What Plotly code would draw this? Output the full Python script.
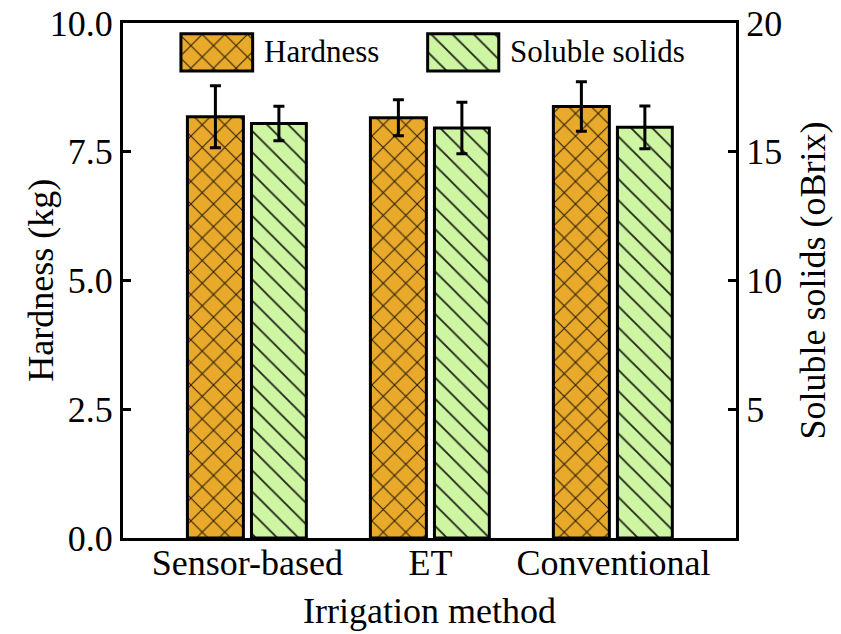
import plotly.graph_objects as go

categories = ["Sensor-based", "ET", "Conventional"]
hardness = [8.18, 8.16, 8.38]
hardness_err = [0.60, 0.35, 0.48]
soluble = [16.1, 15.92, 15.95]
soluble_err = [0.67, 1.0, 0.83]
legend_labels = ["Hardness", "Soluble solids"]
x_title = "Irrigation method"
y_title = "Hardness (kg)"
y2_title = "Soluble solids (oBrix)"

FONT = "Liberation Serif"
ORANGE = "#E9A92A"
GREEN = "#CEF5A2"
TICK = 36
TITLE = 36

fig = go.Figure()
fig.add_trace(go.Bar(
    x=categories, y=hardness, name=legend_labels[0], yaxis="y",
    offset=-0.328, width=0.306,
    marker=dict(color=ORANGE, line=dict(color="black", width=3),
                pattern=dict(shape="x", size=16, solidity=0.12, fgcolor="black", bgcolor=ORANGE, fgopacity=0.85)),
    error_y=dict(type="data", array=hardness_err, color="black", thickness=3, width=5.5),
    showlegend=False,
))
fig.add_trace(go.Bar(
    x=categories, y=soluble, name=legend_labels[1], yaxis="y2",
    offset=0.022, width=0.30,
    marker=dict(color=GREEN, line=dict(color="black", width=3),
                pattern=dict(shape="\\", size=15, solidity=0.12, fgcolor="black", bgcolor=GREEN, fgopacity=0.85)),
    error_y=dict(type="data", array=soluble_err, color="black", thickness=3, width=5.5),
    showlegend=False,
))

# legend swatches drawn on a hidden overlay axis (fraction of plot area)
sw_x = [0.153, 0.555]
sw_base = 0.907
sw_h = 0.072
fig.add_trace(go.Bar(
    x=[sw_x[0]], y=[sw_h], base=[sw_base], width=0.117, xaxis="x2", yaxis="y3",
    marker=dict(color=ORANGE, line=dict(color="black", width=3),
                pattern=dict(shape="x", size=16, solidity=0.12, fgcolor="black", bgcolor=ORANGE, fgopacity=0.85)),
    showlegend=False, hoverinfo="skip",
))
fig.add_trace(go.Bar(
    x=[sw_x[1]], y=[sw_h], base=[sw_base], width=0.116, xaxis="x2", yaxis="y3",
    marker=dict(color=GREEN, line=dict(color="black", width=3),
                pattern=dict(shape="\\", size=15, solidity=0.12, fgcolor="black", bgcolor=GREEN, fgopacity=0.85)),
    showlegend=False, hoverinfo="skip",
))

for lab, xx in zip(legend_labels, [0.227, 0.628]):
    fig.add_annotation(text=lab, xref="paper", yref="paper", x=xx, y=0.944,
                       xanchor="left", yanchor="middle", showarrow=False,
                       font=dict(family=FONT, size=31, color="black"))

# axis titles as annotations for exact placement
fig.add_annotation(text=x_title, xref="paper", yref="paper", x=0.5, y=-0.141,
                   xanchor="center", yanchor="middle", showarrow=False,
                   font=dict(family=FONT, size=TITLE, color="black"))
fig.add_annotation(text=y_title, xref="paper", yref="paper", x=-0.135, y=0.5, textangle=-90,
                   xanchor="center", yanchor="middle", showarrow=False,
                   font=dict(family=FONT, size=TITLE, color="black"))
fig.add_annotation(text=y2_title, xref="paper", yref="paper", x=1.124, y=0.5, textangle=-90,
                   xanchor="center", yanchor="middle", showarrow=False,
                   font=dict(family=FONT, size=TITLE, color="black"))

axis_common = dict(showline=True, linecolor="black", linewidth=3, showgrid=False, zeroline=False,
                   automargin=False, tickfont=dict(family=FONT, size=TICK, color="black"))

fig.update_layout(
    width=841, height=634,
    margin=dict(l=123, r=105, t=23, b=96),
    paper_bgcolor="white", plot_bgcolor="white",
    barmode="overlay",
    xaxis=dict(**axis_common, range=[-0.68, 2.67], mirror=True, ticks="", ticklabelstandoff=-9),
    yaxis=dict(**axis_common, range=[0, 10], tickvals=[0, 2.5, 5, 7.5, 10], tickformat=".1f",
               ticks="inside", ticklen=8, tickwidth=3, tickcolor="black"),
    yaxis2=dict(**axis_common, range=[0, 20], tickvals=[5, 10, 15, 20], overlaying="y", side="right",
                ticks="inside", ticklen=8, tickwidth=3, tickcolor="black"),
    xaxis2=dict(overlaying="x", range=[0, 1], visible=False, fixedrange=True),
    yaxis3=dict(overlaying="y", range=[0, 1], visible=False, fixedrange=True),
)

fig.write_html("out.html")
